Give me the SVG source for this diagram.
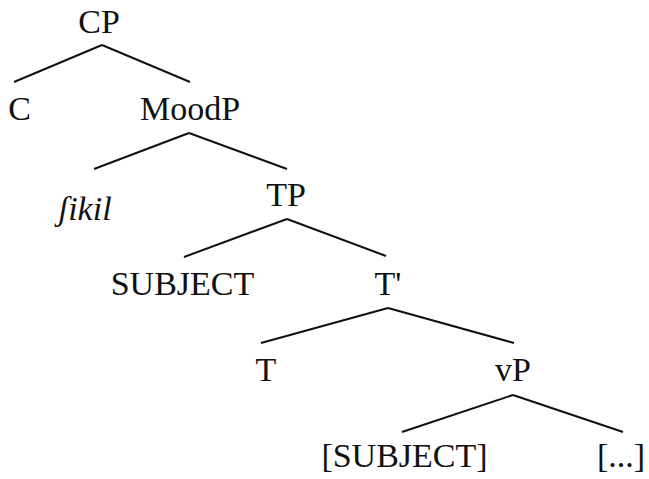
<svg xmlns="http://www.w3.org/2000/svg" width="649" height="479" viewBox="0 0 649 479">
<style>
text{font-family:"Liberation Serif","Times New Roman",serif;font-size:34px;fill:#111;text-anchor:middle}
.i{font-style:italic}
line{stroke:#111;stroke-width:2;stroke-linecap:butt}
</style>
<rect width="649" height="479" fill="#fff"/>
<g id="connectors">
<line x1="102" y1="45" x2="14" y2="82"/>
<line x1="102" y1="45" x2="190" y2="82"/>
<line x1="189" y1="133" x2="94" y2="169"/>
<line x1="189" y1="133" x2="287" y2="169"/>
<line x1="287" y1="219" x2="184" y2="257"/>
<line x1="287" y1="219" x2="386" y2="256"/>
<line x1="388" y1="308" x2="261" y2="343"/>
<line x1="388" y1="308" x2="514" y2="343"/>
<line x1="513" y1="395" x2="402" y2="432"/>
<line x1="513" y1="395" x2="623" y2="432"/>
</g>
<g id="CP"><text x="99" y="33">CP</text></g>
<g id="C"><text x="19.5" y="120">C</text></g>
<g id="MoodP"><text x="190" y="120">MoodP</text></g>
<g id="fikil"><text class="i" x="85" y="220">ʃikil</text></g>
<g id="TP"><text x="286" y="206">TP</text></g>
<g id="SUBJECT"><text x="182.5" y="295">SUBJECT</text></g>
<g id="Tbar"><text x="388" y="295">T'</text></g>
<g id="T"><text x="266" y="381">T</text></g>
<g id="vP"><text x="513" y="381">vP</text></g>
<g id="SUBJECT2"><text x="404.5" y="467">[SUBJECT]</text></g>
<g id="rest"><text x="621" y="467">[...]</text></g>
</svg>
